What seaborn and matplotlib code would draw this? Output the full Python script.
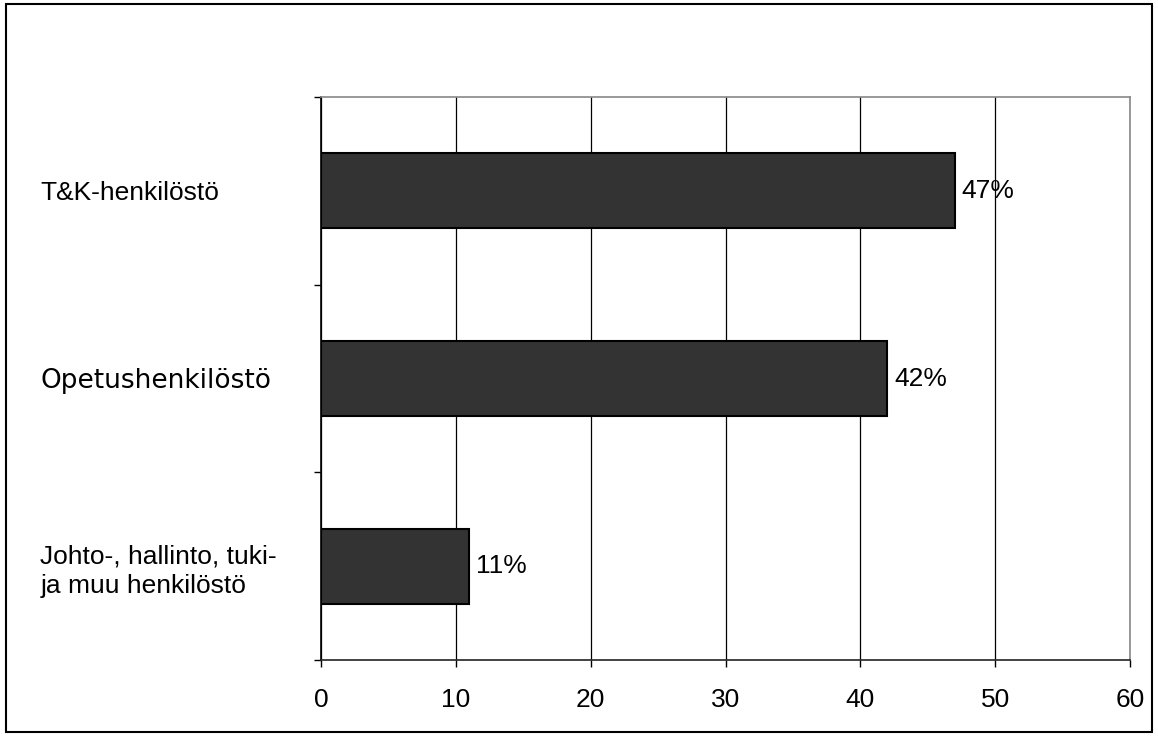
import matplotlib
matplotlib.use("Agg")
import matplotlib.pyplot as plt
import seaborn as sns
import pandas as pd
from matplotlib.patches import Rectangle
from matplotlib.ticker import FixedLocator

categories = ["T&K-henkilöstö", "Opetushenkilöstö", "Johto-, hallinto, tuki-\nja muu henkilöstö"]
values = [47, 42, 11]
x_ticks = [0, 10, 20, 30, 40, 50, 60]

df = pd.DataFrame({"category": categories, "value": values})

sns.set_style("white")
plt.rcParams["font.family"] = ["Liberation Sans", "DejaVu Sans"]
plt.rcParams["text.color"] = "black"
plt.rcParams["xtick.labelcolor"] = "black"
plt.rcParams["ytick.labelcolor"] = "black"

fig = plt.figure(figsize=(11.58, 7.36), dpi=100)
ax = fig.add_axes([321 / 1158, 1 - 660 / 736, (1130 - 321) / 1158, (660 - 97) / 736])

sns.barplot(data=df, x="value", y="category", orient="h", color="#333333",
            edgecolor="black", linewidth=1.5, width=0.4, saturation=1, ax=ax)

ax.set_xlim(0, 60)
ax.set_ylim(2.5, -0.5)
ax.set_xticks(x_ticks)
ax.set_xlabel("")
ax.set_ylabel("")
ax.xaxis.grid(True, color="black", linewidth=0.9)
ax.set_axisbelow(True)

for c in ax.containers:
    ax.bar_label(c, fmt="%d%%", padding=5, fontsize=19, color="black")

# category boundaries get the tick marks, labels stay centred
ax.yaxis.set_minor_locator(FixedLocator([-0.5, 0.5, 1.5, 2.5]))
ax.tick_params(axis="y", which="major", left=True, length=0, pad=202,
               labelsize=19, labelcolor="black")
ax.tick_params(axis="y", which="minor", left=True, length=5, width=1,
               color="black", direction="out")
ax.tick_params(axis="x", which="major", bottom=True, length=5, width=1, color="black",
               direction="out", labelsize=19, pad=15, labelcolor="black")
for lab in ax.get_yticklabels():
    lab.set_horizontalalignment("left")
    lab.set_linespacing(1.3)
    if lab.get_text() == "Opetushenkilöstö":
        lab.set_family("DejaVu Sans")
        lab.set_fontsize(19)

ax.spines["left"].set_color("black")
ax.spines["bottom"].set_color("#222222")
ax.spines["top"].set_color("#888888")
ax.spines["right"].set_color("#888888")
for s in ax.spines.values():
    s.set_linewidth(1.2)

fig.patches.append(Rectangle((6 / 1158, 4 / 736), 1146 / 1158, 728 / 736,
                             transform=fig.transFigure, fill=False,
                             edgecolor="black", linewidth=1.5))

fig.savefig("out.png", dpi=100)
